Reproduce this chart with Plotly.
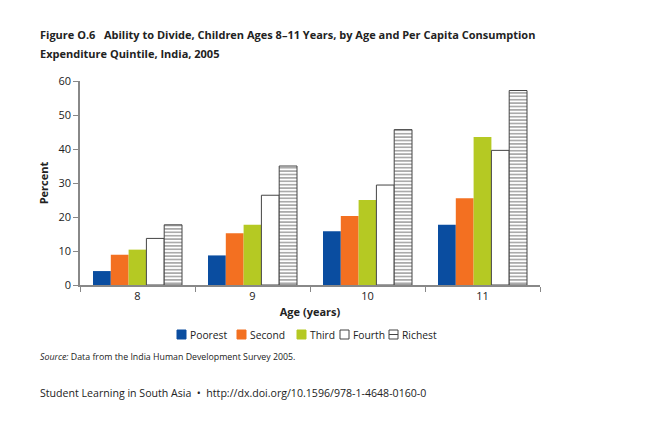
import plotly.graph_objects as go

ages = ["8", "9", "10", "11"]
series_names = ["Poorest", "Second", "Third", "Fourth", "Richest"]
poorest = [4.1, 8.7, 15.8, 17.7]
second = [8.9, 15.2, 20.3, 25.5]
third = [10.4, 17.7, 25.0, 43.5]
fourth = [13.7, 26.4, 29.4, 39.6]
richest = [17.7, 35.0, 45.7, 57.2]
y_ticks = [0, 10, 20, 30, 40, 50, 60]

values = [poorest, second, third, fourth, richest]
colors = ["#0a4da0", "#f37021", "#b5c923", "#ffffff", "#ffffff"]
line_colors = ["#0a4da0", "#f37021", "#b5c923", "#444444", "#444444"]

FONT = "Open Sans"
TXT = "#222222"
# plot area in page pixels (page has 8px body margin)
PL, PT, PW, PH = 80, 81, 460, 204
fig = go.Figure()
for name, vals, c, lc in zip(series_names, values, colors, line_colors):
    kw = {}
    if name == "Richest":
        kw = dict(pattern=dict(shape="-", fgcolor="#444444", bgcolor="#ffffff", size=3.4, solidity=0.45))
    fig.add_trace(go.Bar(
        name=name, x=ages, y=vals, showlegend=False,
        marker=dict(color=c, line=dict(color=lc, width=1 if name in ("Fourth", "Richest") else 0), **kw),
    ))

fig.update_layout(
    width=662, height=427,
    barmode="group", bargap=0.226, bargroupgap=0,
    plot_bgcolor="white", paper_bgcolor="white",
    margin=dict(l=PL - 8, r=662 - (PL - 8) - PW, t=PT - 8, b=427 - (PT - 8) - PH, autoexpand=False),
    font=dict(family=FONT, size=11, color=TXT),
    xaxis=dict(type="category", tickson="boundaries", ticks="outside", ticklen=5,
               tickcolor="#888888", showline=True, linecolor="#888888", linewidth=1.5,
               title=dict(text="<b>Age (years)</b>", font=dict(size=11), standoff=6),
               tickfont=dict(size=11), automargin=False),
    yaxis=dict(range=[0, 60], tickvals=y_ticks, ticks="outside", ticklen=5,
               tickcolor="#888888", showline=True, linecolor="#888888", linewidth=1.5,
               showgrid=False, zeroline=False, automargin=False,
               title=dict(text="<b>Percent</b>", font=dict(size=11), standoff=8),
               tickfont=dict(size=11)),
)

def px(x):
    return (x - PL) / PW

def py(y):
    return (PT + PH - y) / PH

# title (two lines)
fig.add_annotation(xref="paper", yref="paper", x=px(38), y=py(35), xanchor="left", yanchor="middle",
                   text="<b>Figure O.6   Ability to Divide, Children Ages 8–11 Years, by Age and Per Capita Consumption</b>",
                   showarrow=False, align="left", font=dict(size=11, color=TXT))
fig.add_annotation(xref="paper", yref="paper", x=px(38), y=py(53), xanchor="left", yanchor="middle",
                   text="<b>Expenditure Quintile, India, 2005</b>",
                   showarrow=False, align="left", font=dict(size=11, color=TXT))

# manual legend
leg_sym_x = [177, 237, 297, 340, 389]
leg_y0, leg_y1 = 330, 339
for name, c, lc, sx in zip(series_names, colors, line_colors, leg_sym_x):
    fig.add_shape(type="rect", xref="paper", yref="paper",
                  x0=px(sx), x1=px(sx + 9), y0=py(leg_y1), y1=py(leg_y0),
                  fillcolor=c, line=dict(color=lc, width=1))
    if name == "Richest":
        fig.add_shape(type="line", xref="paper", yref="paper",
                      x0=px(sx), x1=px(sx + 9), y0=py((leg_y0 + leg_y1) / 2), y1=py((leg_y0 + leg_y1) / 2),
                      line=dict(color=lc, width=1))
    fig.add_annotation(xref="paper", yref="paper", x=px(sx + 11), y=py((leg_y0 + leg_y1) / 2),
                       xanchor="left", yanchor="middle", text=name, showarrow=False,
                       font=dict(size=10.3, color=TXT))

fig.add_annotation(xref="paper", yref="paper", x=px(38), y=py(357), xanchor="left", yanchor="middle",
                   text="<i>Source:</i> Data from the India Human Development Survey 2005.",
                   showarrow=False, align="left", font=dict(size=8.8, color=TXT))
fig.add_annotation(xref="paper", yref="paper", x=px(38), y=py(393), xanchor="left", yanchor="middle",
                   text="Student Learning in South Asia  •  http://dx.doi.org/10.1596/978-1-4648-0160-0",
                   showarrow=False, align="left", font=dict(size=10.6, color=TXT))

fig.write_html("out.html")
